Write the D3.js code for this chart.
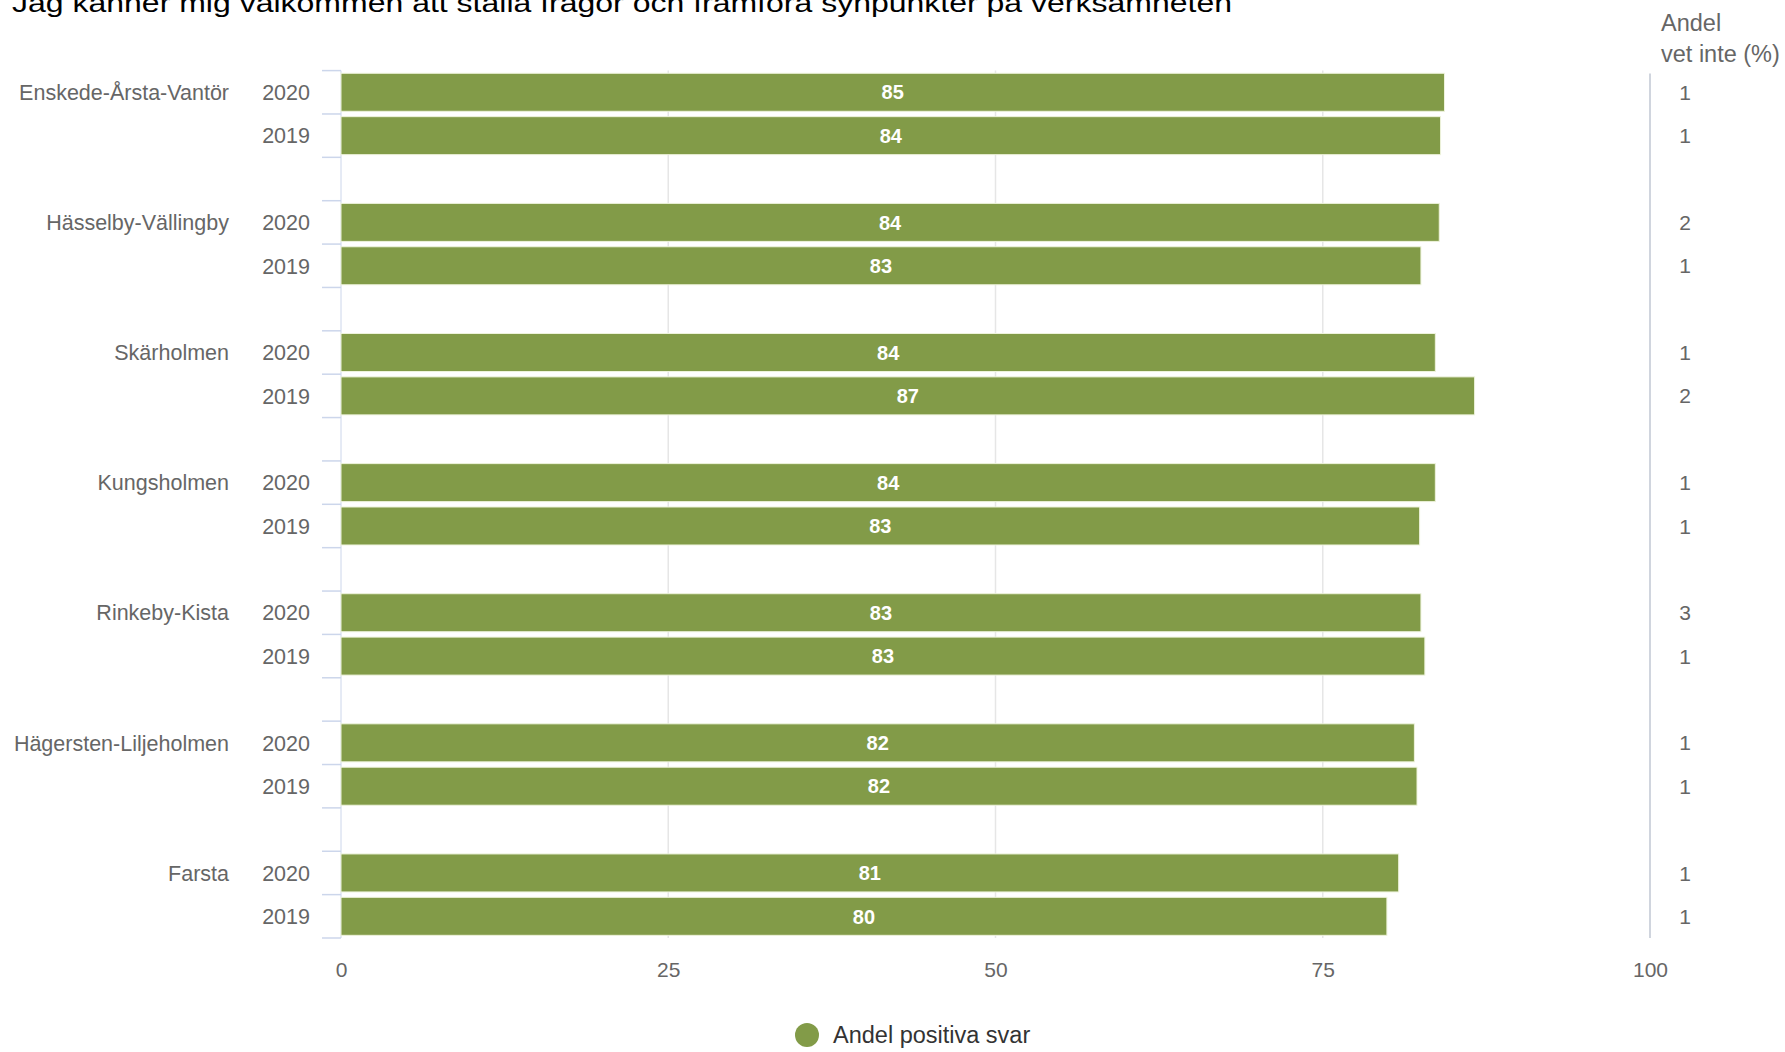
<!DOCTYPE html>
<html>
<head>
<meta charset="utf-8">
<script src="https://cdn.jsdelivr.net/npm/d3@7"></script>
<style>
  html, body { margin: 0; padding: 0; background: #fff; }
  svg { display: block; font-family: "Liberation Sans", Arial, Helvetica, sans-serif; }
</style>
</head>
<body>
<svg id="chart" width="1785" height="1052"></svg>
<script>
const title = "Jag känner mig välkommen att ställa frågor och framföra synpunkter på verksamheten";
const groups = ["Enskede-Årsta-Vantör", "Hässelby-Vällingby", "Skärholmen", "Kungsholmen", "Rinkeby-Kista", "Hägersten-Liljeholmen", "Farsta"];
const years = ["2020", "2019"];
const positive2020 = [84.3, 83.9, 83.6, 83.6, 82.5, 82.0, 80.8];
const positive2019 = [84.0, 82.5, 86.6, 82.4, 82.8, 82.2, 79.9];
const labels2020 = [85, 84, 84, 84, 83, 82, 81];
const labels2019 = [84, 83, 87, 83, 83, 82, 80];
const vetInte2020 = [1, 2, 1, 1, 3, 1, 1];
const vetInte2019 = [1, 1, 2, 1, 1, 1, 1];
const xTicks = [0, 25, 50, 75, 100];
const legendLabel = "Andel positiva svar";
const sideHeader = ["Andel", "vet inte (%)"];

const barColor = "#829b48";
const svg = d3.select("#chart");

// Build rows
const rows = [];
const domain = [];
groups.forEach((g, i) => {
  rows.push({key: g + "|2020", group: g, year: years[0], value: positive2020[i], label: labels2020[i], vet: vetInte2020[i], first: true});
  rows.push({key: g + "|2019", group: g, year: years[1], value: positive2019[i], label: labels2019[i], vet: vetInte2019[i], first: false});
  domain.push(g + "|2020", g + "|2019");
  if (i < groups.length - 1) domain.push(g + "|gap");
});

const plotLeft = 341, plotRight = 1650, plotTop = 70.6, plotBottom = 938;
const x = d3.scaleLinear().domain([0, 100]).range([plotLeft, plotRight]);
const y = d3.scaleBand().domain(domain).range([plotTop, plotBottom]).padding(0);
const bw = y.bandwidth();
const barH = 38;

// Title
svg.append("text")
  .attr("x", 12).attr("y", 12)
  .attr("font-size", 26).attr("fill", "#000")
  .attr("textLength", 1220).attr("lengthAdjust", "spacingAndGlyphs")
  .text(title);

// Grid lines
svg.append("g").selectAll("line")
  .data(xTicks.filter(t => t > 0 && t < 100))
  .join("line")
  .attr("x1", d => x(d)).attr("x2", d => x(d))
  .attr("y1", plotTop).attr("y2", plotBottom)
  .attr("stroke", "#e6e6e6").attr("stroke-width", 1.5);

// separator line at 100
svg.append("line")
  .attr("x1", x(100)).attr("x2", x(100))
  .attr("y1", plotTop + 3).attr("y2", plotBottom)
  .attr("stroke", "#d0d5de").attr("stroke-width", 2);

// Left axis line + ticks at band boundaries
const boundaries = domain.map(d => y(d)).concat([plotBottom]);
svg.append("line")
  .attr("x1", plotLeft).attr("x2", plotLeft)
  .attr("y1", plotTop).attr("y2", plotBottom)
  .attr("stroke", "#ccd6eb").attr("stroke-width", 1);
svg.append("g").selectAll("line")
  .data(boundaries)
  .join("line")
  .attr("x1", plotLeft - 19).attr("x2", plotLeft)
  .attr("y1", d => d).attr("y2", d => d)
  .attr("stroke", "#ccd6eb").attr("stroke-width", 1.5);

// Bars
svg.append("g").selectAll("rect")
  .data(rows)
  .join("rect")
  .attr("x", x(0))
  .attr("y", d => y(d.key) + (bw - barH) / 2)
  .attr("width", d => x(d.value) - x(0))
  .attr("height", barH)
  .attr("fill", barColor)
  .attr("stroke", "#eef3dc").attr("stroke-width", 1);

// Data labels
svg.append("g").selectAll("text")
  .data(rows)
  .join("text")
  .attr("x", d => x(d.value / 2))
  .attr("y", d => y(d.key) + bw / 2)
  .attr("dy", "0.36em")
  .attr("text-anchor", "middle")
  .attr("font-size", 20).attr("font-weight", "bold")
  .attr("fill", "#fff")
  .text(d => d.label);

// Year labels
svg.append("g").selectAll("text")
  .data(rows)
  .join("text")
  .attr("x", 310)
  .attr("y", d => y(d.key) + bw / 2)
  .attr("dy", "0.36em")
  .attr("text-anchor", "end")
  .attr("font-size", 21.5).attr("fill", "#666")
  .text(d => d.year);

// Group labels
svg.append("g").selectAll("text")
  .data(rows.filter(r => r.first))
  .join("text")
  .attr("x", 229)
  .attr("y", d => y(d.key) + bw / 2)
  .attr("dy", "0.36em")
  .attr("text-anchor", "end")
  .attr("font-size", 21.5).attr("fill", "#666")
  .text(d => d.group);

// Right column values
svg.append("g").selectAll("text")
  .data(rows)
  .join("text")
  .attr("x", 1685)
  .attr("y", d => y(d.key) + bw / 2)
  .attr("dy", "0.36em")
  .attr("text-anchor", "middle")
  .attr("font-size", 21).attr("fill", "#666")
  .text(d => d.vet);

// Right header
svg.append("g").selectAll("text")
  .data(sideHeader)
  .join("text")
  .attr("x", 1661)
  .attr("y", (d, i) => 23 + i * 30.5)
  .attr("dy", "0.36em")
  .attr("font-size", 23.5).attr("fill", "#666")
  .text(d => d);

// X axis
const xAxis = d3.axisBottom(x).tickValues(xTicks).tickSize(0).tickPadding(0);
const gx = svg.append("g").attr("transform", `translate(0, ${plotBottom})`).call(xAxis);
gx.select(".domain").remove();
gx.selectAll("text")
  .attr("y", 31).attr("dy", "0.36em")
  .attr("font-size", 21).attr("fill", "#666")
  .attr("font-family", "Liberation Sans, Arial, sans-serif");

// Legend
const lg = svg.append("g").attr("transform", "translate(807, 1035)");
lg.append("circle").attr("r", 12).attr("fill", barColor);
lg.append("text").attr("x", 26).attr("dy", "0.36em")
  .attr("font-size", 23.5).attr("fill", "#333").text(legendLabel);
</script>
</body>
</html>
